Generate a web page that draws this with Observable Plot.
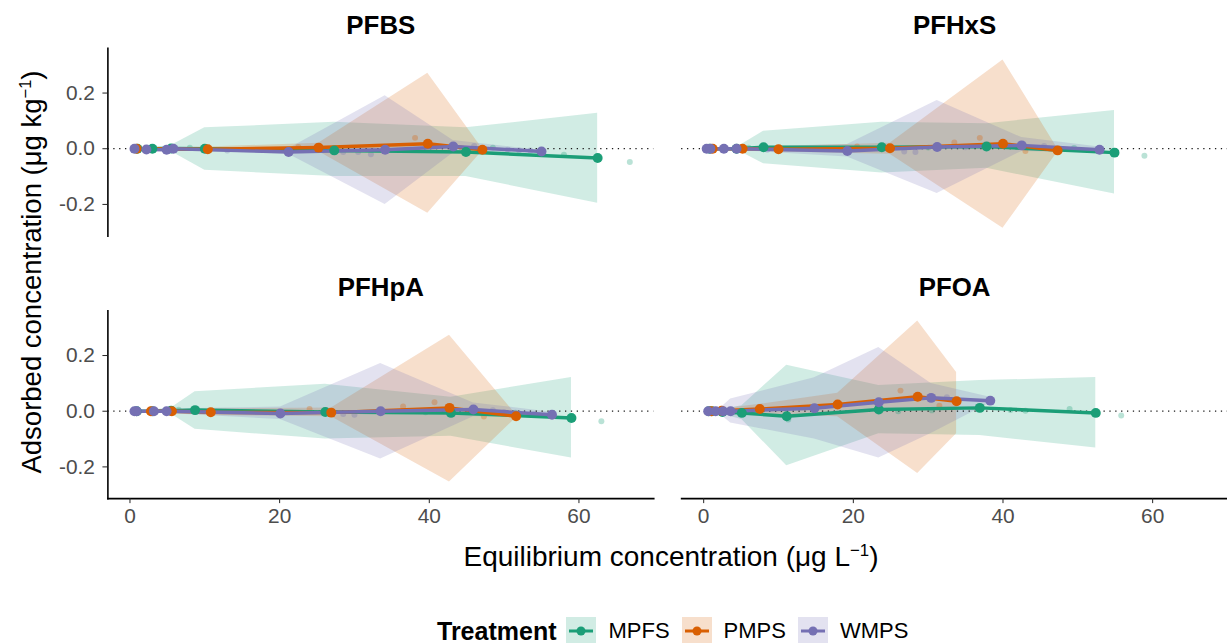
<!DOCTYPE html>
<html><head><meta charset="utf-8">
<script src="https://cdn.jsdelivr.net/npm/d3@7"></script>
<script src="https://cdn.jsdelivr.net/npm/@observablehq/plot@0.6"></script>
<style>
html,body{margin:0;padding:0;background:#fff;}
#wrap{position:relative;width:1227px;height:643px;overflow:hidden;background:#fff;font-family:"Liberation Sans",Arial,Helvetica,sans-serif;color:#000;}
#chart{position:absolute;left:0;top:0;}
#ylab{position:absolute;left:32px;top:272px;transform:translate(-50%,-50%) rotate(-90deg);white-space:nowrap;font-size:27.5px;line-height:32px;}
#xlab{position:absolute;left:108px;width:1126px;top:541px;text-align:center;font-size:28px;line-height:32px;white-space:nowrap;}
sup{font-size:0.6em;line-height:0;}
#legend{position:absolute;left:437px;top:617px;height:28px;display:flex;align-items:center;white-space:nowrap;}
#legend .lt{font-weight:bold;font-size:25px;margin-right:10px;}
#legend .lab{font-size:22px;margin-left:12px;margin-right:12px;}
#legend svg{display:block;}
</style>
</head><body>
<div id="wrap">
  <div id="chart"></div>
  <div id="ylab">Adsorbed concentration (μg kg<sup>−1</sup>)</div>
  <div id="xlab">Equilibrium concentration (μg L<sup>−1</sup>)</div>
  <div id="legend"></div>
</div>
<script>
// ---- data ----
const treatments = ["MPFS", "PMPS", "WMPS"];
const colors = ["#1B9E77", "#D95F02", "#7570B3"];
const panelNames = ["PFBS", "PFHxS", "PFHpA", "PFOA"];
const panelCols = [0, 1, 0, 1];
const panelRows = [0, 0, 1, 1];
const xTicks = [0, 20, 40, 60];
const yTicks = [-0.2, 0, 0.2];

// mean series: [equilibrium conc, adsorbed mean, ribbon lower, ribbon upper]
const PFBS_MPFS = [[1.0,0,0,0],[3.0,0.0,-0.004,0.004],[5.5,0.001,-0.01,0.012],[10.0,0.0,-0.077,0.075],[27.3,-0.006,-0.1,0.095],[44.9,-0.012,-0.10,0.075],[62.5,-0.033,-0.196,0.127]];
const PFBS_PMPS = [[0.9,0,0,0],[10.4,-0.002,-0.008,0.006],[25.2,0.004,-0.01,0.02],[39.8,0.018,-0.232,0.271],[47.1,-0.004,-0.008,0.0]];
const PFBS_WMPS = [[0.6,0,0,0],[2.2,-0.003,-0.005,0.003],[4.9,-0.004,-0.008,0.003],[5.8,0.0,-0.005,0.005],[21.2,-0.012,-0.02,0.0],[34.1,-0.004,-0.2,0.19],[43.2,0.008,-0.015,0.03],[55.0,-0.01,-0.014,-0.006]];

const PFHXS_MPFS = [[0.8,0,0,0],[4.4,0.0,-0.004,0.004],[8.0,0.005,-0.054,0.063],[23.8,0.005,-0.087,0.095],[37.8,0.008,-0.07,0.09],[54.9,-0.014,-0.163,0.137]];
const PFHXS_PMPS = [[1.2,0,0,0],[5.2,0.0,-0.003,0.003],[10.0,-0.002,-0.012,0.008],[24.9,0.002,-0.02,0.02],[40.0,0.018,-0.286,0.319],[47.3,-0.006,-0.012,0.0]];
const PFHXS_WMPS = [[0.4,0,0,0],[0.9,0,-0.002,0.002],[2.7,0.0,-0.004,0.004],[4.4,0.0,-0.006,0.006],[19.2,-0.008,-0.03,0.015],[31.2,0.006,-0.161,0.173],[42.5,0.012,-0.01,0.04],[52.9,-0.004,-0.015,0.006]];

const PFHPA_MPFS = [[0.9,0,0,0],[3.0,0,-0.004,0.004],[5.5,0.002,-0.01,0.012],[8.7,0.004,-0.065,0.07],[26.1,-0.003,-0.1,0.097],[42.9,-0.006,-0.09,0.05],[59.0,-0.024,-0.168,0.121]];
const PFHPA_PMPS = [[2.8,0,0,0],[5.6,0,-0.004,0.004],[10.8,-0.004,-0.015,0.008],[26.9,-0.005,-0.02,0.012],[42.7,0.012,-0.254,0.273],[51.6,-0.018,-0.024,-0.012]];
const PFHPA_WMPS = [[0.6,0,0,0],[0.9,0,-0.002,0.002],[3.2,0,-0.005,0.005],[4.9,0,-0.008,0.008],[20.1,-0.008,-0.03,0.015],[33.5,0.0,-0.172,0.171],[45.9,0.006,-0.02,0.03],[56.4,-0.013,-0.02,-0.004]];

const PFOA_MPFS = [[0.7,0,0,0],[1.1,0,-0.005,0.005],[2.5,-0.003,-0.012,0.006],[5.1,-0.006,-0.03,0.02],[11.1,-0.018,-0.196,0.165],[23.4,0.006,-0.081,0.092],[36.9,0.012,-0.087,0.11],[52.4,-0.006,-0.132,0.121]];
const PFOA_PMPS = [[1.0,0,0,0],[2.4,0.002,-0.004,0.008],[7.5,0.008,-0.01,0.025],[17.9,0.024,-0.02,0.065],[28.6,0.052,-0.224,0.324],[33.8,0.036,-0.081,0.139]];
const PFOA_WMPS = [[0.6,0,0,0],[1.6,0,-0.01,0.01],[2.6,0.0,-0.02,0.02],[3.6,0.0,-0.042,0.044],[14.8,0.011,-0.1,0.12],[23.4,0.032,-0.168,0.229],[30.4,0.048,-0.08,0.1],[38.3,0.038,0.03,0.05]];

// individual replicate observations: [treatment, equilibrium conc, adsorbed]
const PFBS_OBS = [["PMPS",38.1,0.039],["MPFS",66.8,-0.048],["MPFS",8.0,0.004],["WMPS",13.0,-0.006],["WMPS",28.5,-0.012],["WMPS",30.5,-0.012],["WMPS",32.2,-0.02],["MPFS",48.5,0.004],["WMPS",50.5,-0.004],["WMPS",52.0,-0.006],["WMPS",53.5,-0.006],["MPFS",58.0,-0.022],["PMPS",22.5,0.006],["WMPS",46.0,0.01]];
const PFHXS_OBS = [["PMPS",36.9,0.039],["PMPS",33.5,0.022],["MPFS",58.9,-0.025],["PMPS",43.0,-0.008],["MPFS",6.0,0.004],["WMPS",8.5,-0.004],["PMPS",20.5,0.008],["WMPS",26.8,-0.01],["WMPS",28.3,-0.012],["MPFS",30.0,0.004],["WMPS",35.0,0.005],["WMPS",45.5,0.01],["MPFS",49.5,0.003]];
const PFHPA_OBS = [["PMPS",40.7,0.032],["PMPS",36.5,0.017],["MPFS",63.0,-0.036],["PMPS",47.3,-0.019],["MPFS",6.5,0.005],["PMPS",24.0,0.008],["WMPS",28.5,-0.01],["WMPS",30.0,-0.013],["MPFS",39.5,-0.004],["WMPS",48.5,0.004],["WMPS",50.0,-0.004],["WMPS",52.0,-0.008],["WMPS",54.0,-0.01],["MPFS",51.5,-0.005]];
const PFOA_OBS = [["PMPS",26.3,0.074],["MPFS",11.3,-0.03],["MPFS",48.9,0.008],["MPFS",55.8,-0.015],["PMPS",31.5,0.02],["MPFS",26.0,0.0],["WMPS",32.5,0.05],["MPFS",41.0,0.004],["MPFS",43.0,0.002],["MPFS",30.5,0.003]];

const seriesByPanel = [
  [PFBS_MPFS, PFBS_PMPS, PFBS_WMPS],
  [PFHXS_MPFS, PFHXS_PMPS, PFHXS_WMPS],
  [PFHPA_MPFS, PFHPA_PMPS, PFHPA_WMPS],
  [PFOA_MPFS, PFOA_PMPS, PFOA_WMPS]
];
const obsByPanel = [PFBS_OBS, PFHXS_OBS, PFHPA_OBS, PFOA_OBS];

// ---- build tables ----
const means = [], obs = [], titles = [];
panelNames.forEach((name, i) => {
  const col = panelCols[i], row = panelRows[i];
  titles.push({name, col, row});
  seriesByPanel[i].forEach((s, j) => s.forEach(([x, y, lo, hi]) =>
    means.push({col, row, treatment: treatments[j], x, y, lo, hi})));
  obsByPanel[i].forEach(([t, x, y]) => obs.push({col, row, treatment: t, x, y}));
});

const font = '"Liberation Sans", Arial, Helvetica, sans-serif';
const fmt = d => d.toFixed(1);

const chart = Plot.plot({
  width: 1234,
  height: 535,
  marginLeft: 108,
  marginRight: 0,
  marginTop: 48,
  marginBottom: 34,
  style: {fontFamily: font, background: "transparent"},
  fx: {domain: [0, 1], paddingInner: 28 / 577, paddingOuter: 0, axis: null},
  fy: {domain: [0, 1], paddingInner: 75 / 264, paddingOuter: 0, axis: null},
  x: {domain: [-2.95, 70.0], axis: null},
  y: {domain: [-0.314, 0.361], axis: null},
  color: {domain: treatments, range: colors},
  marks: [
    Plot.areaY(means, {x: "x", y1: "lo", y2: "hi", z: "treatment", fill: "treatment", fillOpacity: 0.2, fx: "col", fy: "row"}),
    Plot.ruleY([0], {stroke: "#1a1a1a", strokeWidth: 1.3, strokeDasharray: "1.3,4.6"}),
    Plot.dot(obs, {x: "x", y: "y", fill: "treatment", r: 3, fillOpacity: 0.3, fx: "col", fy: "row"}),
    Plot.line(means, {x: "x", y: "y", z: "treatment", stroke: "treatment", strokeWidth: 3.5, fx: "col", fy: "row"}),
    Plot.dot(means, {x: "x", y: "y", fill: "treatment", r: 5, fx: "col", fy: "row"}),
    Plot.text(titles, {fx: "col", fy: "row", text: "name", frameAnchor: "top", lineAnchor: "middle", dy: -23, fontSize: 26, fontWeight: "bold", fill: "#000"}),
    Plot.frame({anchor: "left", facetAnchor: "left", stroke: "#000", strokeWidth: 1.6}),
    Plot.frame({anchor: "bottom", facetAnchor: "bottom", stroke: "#000", strokeWidth: 1.6}),
    Plot.axisY({ticks: yTicks, tickSize: 5, tickFormat: () => "", stroke: "#222", label: null}),
    Plot.axisY({ticks: yTicks, tickSize: 0, tickPadding: 13, tickFormat: fmt, fontSize: 21, color: "#4d4d4d", label: null}),
    Plot.axisX({ticks: xTicks, tickSize: 5, tickFormat: () => "", stroke: "#222", label: null}),
    Plot.axisX({ticks: xTicks, tickSize: 0, tickPadding: 10, fontSize: 21, color: "#4d4d4d", label: null})
  ]
});
document.getElementById("chart").appendChild(chart);

// ---- legend ----
const legend = document.getElementById("legend");
const lt = document.createElement("span");
lt.className = "lt";
lt.textContent = "Treatment";
legend.appendChild(lt);
treatments.forEach((t, i) => {
  const svg = d3.create("svg").attr("width", 30).attr("height", 28);
  svg.append("rect").attr("width", 30).attr("height", 28).attr("fill", colors[i]).attr("fill-opacity", 0.2);
  svg.append("line").attr("x1", 3).attr("x2", 27).attr("y1", 14).attr("y2", 14).attr("stroke", colors[i]).attr("stroke-width", 3);
  svg.append("circle").attr("cx", 15).attr("cy", 14).attr("r", 4.5).attr("fill", colors[i]);
  legend.appendChild(svg.node());
  const lab = document.createElement("span");
  lab.className = "lab";
  lab.textContent = t;
  legend.appendChild(lab);
});
</script>
</body></html>
